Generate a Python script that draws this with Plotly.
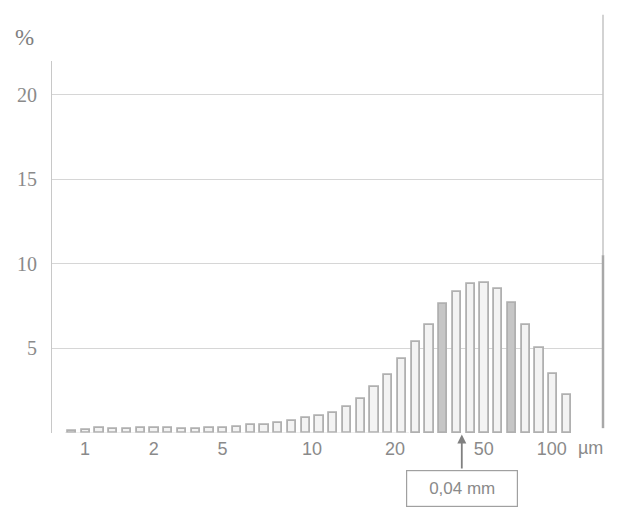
import plotly.graph_objects as go

# Size-class histogram of particle diameters (% per class)
size_class = list(range(37))
share_pct = [0.1, 0.2, 0.3, 0.25, 0.25, 0.3, 0.3, 0.3, 0.25, 0.25,
             0.3, 0.3, 0.35, 0.45, 0.5, 0.6, 0.7, 0.87, 1.0, 1.2,
             1.55, 2.0, 2.7, 3.45, 4.4, 5.4, 6.4, 7.6, 8.35, 8.8,
             8.85, 8.5, 7.7, 6.4, 5.0, 3.5, 2.25]
shaded_classes = [27, 32]

# Diameter scale labels placed under the size classes
x_tick_pos = [0.95, 5.95, 10.95, 17.45, 23.5, 29.95, 34.9]
x_tick_text = ["1", "2", "5", "10", "20", "50", "100"]
y_tick_vals = [5, 10, 15, 20]
marker_class = 28.35
marker_label = "0,04 mm"

GREY_TXT = "#8a8a8a"
fills = ["#c6c6c6" if c in shaded_classes else "#f3f3f3" for c in size_class]

fig = go.Figure(go.Bar(
    x=size_class, y=share_pct, width=0.6,
    marker=dict(color=fills, line=dict(color="#b0b0b0", width=1.8)),
    hoverinfo="skip",
))

fig.update_layout(
    width=618, height=507,
    margin=dict(l=52, r=15, t=61, b=74),
    paper_bgcolor="white", plot_bgcolor="white",
    showlegend=False,
    bargap=0,
    xaxis=dict(range=[-1.4545, 38.62], tickvals=x_tick_pos, ticktext=x_tick_text,
               showgrid=False, zeroline=False, showline=False, ticks="",
               ticklabelstandoff=3,
               tickfont=dict(family="Liberation Sans", size=18, color=GREY_TXT)),
    yaxis=dict(range=[0, 22], tickvals=y_tick_vals, showgrid=True,
               gridcolor="#d6d6d6", gridwidth=1, zeroline=False,
               showline=True, linecolor="#c8c8c8", linewidth=1, ticks="",
               ticklabelstandoff=10,
               tickfont=dict(family="Liberation Serif", size=20, color=GREY_TXT)),
)

# faint base line under the small classes
fig.add_shape(type="line", xref="x", yref="y", x0=-0.5, x1=24.5, y0=0, y1=0,
              line=dict(color="#dcdcdc", width=1))

# right frame line, darker in its lower part
fig.add_shape(type="line", xref="paper", yref="paper", x0=1, x1=1,
              y0=0.478, y1=1.124, line=dict(color="#c4c4c4", width=1.5))
fig.add_shape(type="line", xref="paper", yref="paper", x0=1, x1=1,
              y0=0.013, y1=0.478, line=dict(color="#a8a8a8", width=2.5))

# axis unit labels
fig.add_annotation(text="%", xref="paper", yref="paper", x=-0.05, y=1.062,
                   showarrow=False, xanchor="center", yanchor="middle",
                   font=dict(family="Liberation Serif", size=23, color="#808080"))
fig.add_annotation(text="µm", xref="paper", yref="paper", x=0.951, y=-0.04,
                   showarrow=False, xanchor="left", yanchor="middle",
                   font=dict(family="Liberation Sans", size=18, color=GREY_TXT))

# marker arrow and boxed label
fig.add_annotation(text=" ", x=marker_class, xref="x", y=-0.004, yref="paper",
                   showarrow=True, ax=0, ay=44, axref="pixel", ayref="pixel",
                   arrowhead=2, arrowsize=1, arrowwidth=1.8, arrowcolor="#808080",
                   standoff=0, startstandoff=0)
fig.add_annotation(text=marker_label, x=marker_class, xref="x", y=-0.148, yref="paper",
                   showarrow=False, xanchor="center", yanchor="middle",
                   width=108, height=33, bordercolor="#a0a0a0", borderwidth=1.2,
                   font=dict(family="Liberation Sans", size=17, color=GREY_TXT))

fig.write_html("out.html")
